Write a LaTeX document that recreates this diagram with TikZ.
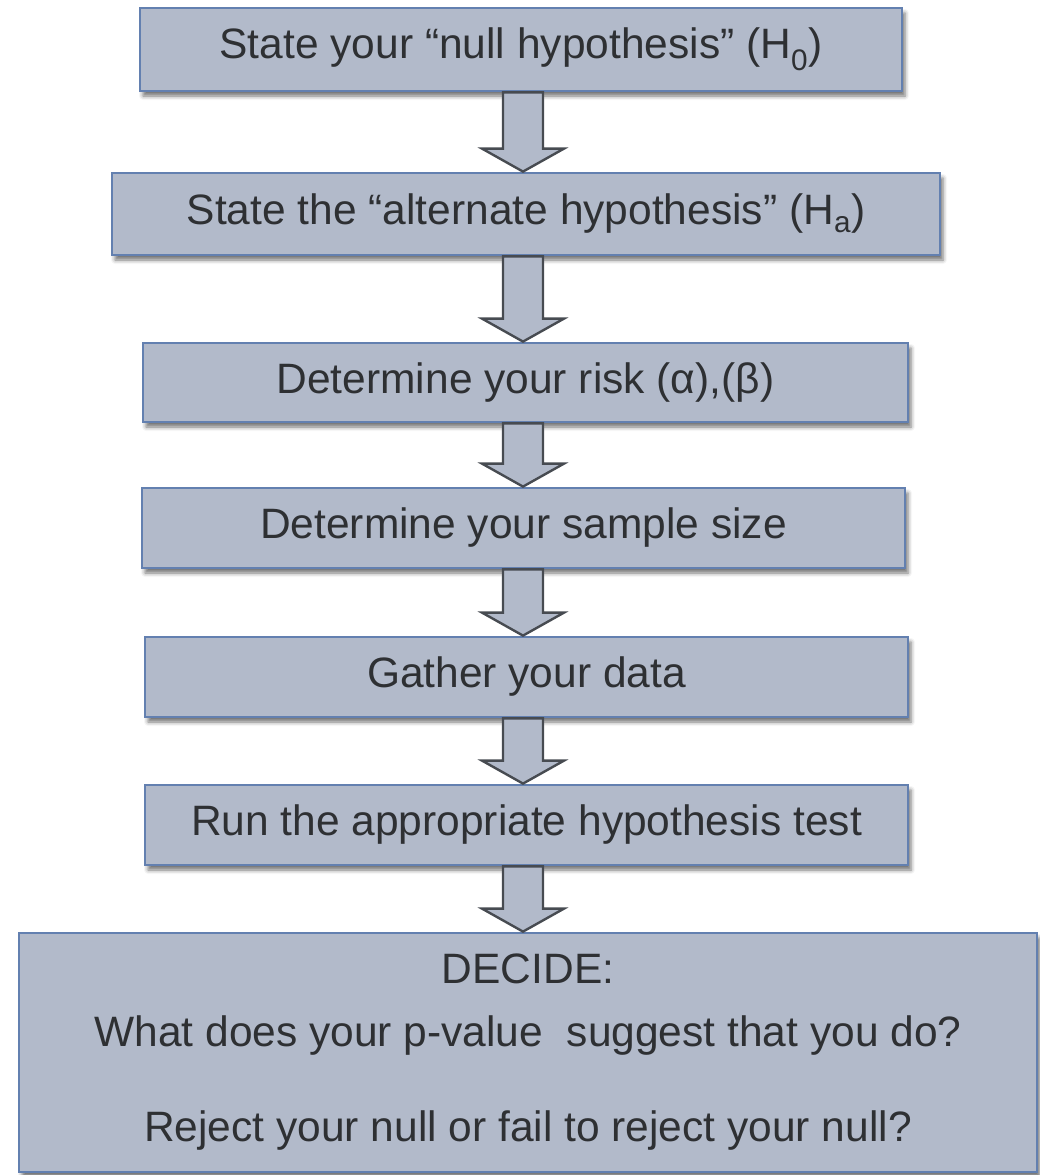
\documentclass[tikz,border=0pt]{standalone}
\usepackage{fontspec}
\setmainfont{Liberation Sans}
\usetikzlibrary{calc,shadows.blur}
\definecolor{boxfill}{HTML}{B2BACA}
\definecolor{boxline}{HTML}{6380B0}
\definecolor{arrowline}{HTML}{474B51}
\definecolor{txt}{HTML}{2E3033}
\newcommand\arrowx{523pt}
\tikzset{
  stepbox/.style={rectangle, draw=boxline, line width=2.8pt, fill=boxfill,
    inner sep=0pt, text=txt, font=\fontsize{42.5}{48}\selectfont,
    blur shadow={shadow xshift=3pt, shadow yshift=-5pt,
      shadow blur radius=4pt, shadow opacity=55}},
  flowarrow/.style={fill=boxfill, draw=arrowline, line width=2.4pt, line join=miter}
}
% hollow block arrow from the bottom of one box to the top of the next
\newcommand\blockarrow[2]{%
  \draw[flowarrow] let \p1=(#1.south), \p2=(#2.north) in
    (\arrowx-20pt,\y1) -- (\arrowx+20pt,\y1) -- (\arrowx+20pt,\y2+23pt)
    -- (\arrowx+41pt,\y2+23pt) -- (\arrowx,\y2) -- (\arrowx-41pt,\y2+23pt)
    -- (\arrowx-20pt,\y2+23pt) -- cycle;}
\begin{document}
\begin{tikzpicture}[x=1pt,y=-1pt]
  \useasboundingbox (0,0) rectangle (1040,1175);
  \node[stepbox, minimum width=762pt, minimum height=83pt] (b1) at (521,49.5)
    {State your “null hypothesis” (H\textsubscript{0})};
  \node[stepbox, minimum width=828pt, minimum height=82pt] (b2) at (526,214)
    {State the “alternate hypothesis” (H\textsubscript{a})};
  \node[stepbox, minimum width=765pt, minimum height=79pt] (b3) at (525.5,382.5)
    {Determine your risk (α),(β)};
  \node[stepbox, minimum width=763pt, minimum height=80pt] (b4) at (523.5,528)
    {Determine your sample size};
  \node[stepbox, minimum width=763pt, minimum height=80pt] (b5) at (526.5,677)
    {Gather your data};
  \node[stepbox, minimum width=763pt, minimum height=80pt] (b6) at (526.5,825)
    {Run the appropriate hypothesis test};
  \node[stepbox, minimum width=1018pt, minimum height=239pt, align=center] (b7) at (528,1052.5)
    {DECIDE:\\[15pt]
     What does your p-value\ \ suggest that you do?\\[47pt]
     Reject your null or fail to reject your null?};
  \blockarrow{b1}{b2}
  \blockarrow{b2}{b3}
  \blockarrow{b3}{b4}
  \blockarrow{b4}{b5}
  \blockarrow{b5}{b6}
  \blockarrow{b6}{b7}
\end{tikzpicture}
\end{document}
